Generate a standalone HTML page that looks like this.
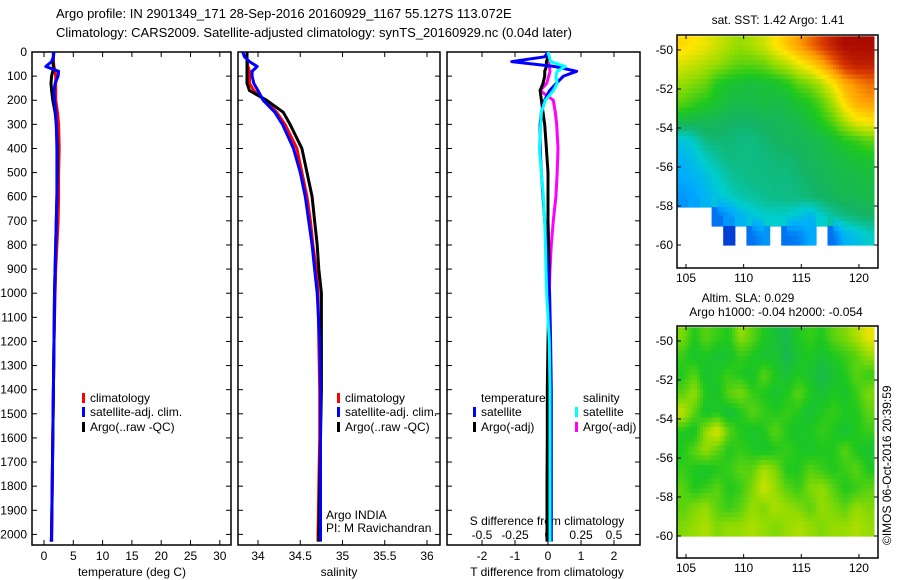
<!DOCTYPE html>
<html><head><meta charset="utf-8"><style>
html,body{margin:0;padding:0;background:#fff;}
svg{display:block;font-family:"Liberation Sans",sans-serif;}
text{font-size:12px;fill:#000;}
</style></head><body>
<svg id="c" width="900" height="580" viewBox="0 0 900 580">
<text x="56" y="18" style="font-size:13px">Argo profile: IN 2901349_171 28-Sep-2016 20160929_1167 55.127S 113.072E</text>
<text x="56" y="37" style="font-size:13px">Climatology: CARS2009. Satellite-adjusted climatology: synTS_20160929.nc (0.04d later)</text>
<text x="778" y="24" text-anchor="middle">sat. SST: 1.42 Argo: 1.41</text>
<text x="748" y="302" text-anchor="middle">Altim. SLA: 0.029</text>
<text x="776" y="316" text-anchor="middle">Argo h1000: -0.04 h2000: -0.054</text>
<text transform="translate(891,545) rotate(-90)">©IMOS 06-Oct-2016 20:39:59</text>
</svg>
<script>
// ---- data ----
const depths=[0,20,40,60,80,100,130,160,200,250,300,400,500,600,700,800,900,1000,1200,1400,1600,1800,2000,2030];
const tempArgo=[1.6,1.6,1.5,1.6,1.5,1.3,1.2,1.3,1.5,1.9,2.1,2.3,2.3,2.2,2.1,2.0,1.9,1.8,1.7,1.6,1.5,1.4,1.3,1.3];
const tempClim=[1.6,1.6,1.6,1.7,1.9,2.0,2.0,2.0,2.0,2.3,2.5,2.6,2.5,2.5,2.4,2.2,2.0,1.9,1.7,1.6,1.5,1.4,1.3,1.2];
const tempSat=[1.7,1.6,1.3,0.3,2.5,2.4,1.9,1.7,1.8,2.0,2.1,2.2,2.2,2.2,2.1,2.0,1.9,1.8,1.7,1.6,1.5,1.4,1.3,1.3];
const salArgo=[33.87,33.87,33.87,33.87,33.87,33.87,33.87,33.9,34.1,34.3,34.38,34.52,34.58,34.64,34.67,34.7,34.72,34.75,34.75,34.75,34.74,34.73,34.72,34.72];
const salClim=[33.87,33.87,33.87,33.88,33.9,33.9,33.9,33.95,34.08,34.22,34.32,34.46,34.52,34.58,34.62,34.65,34.69,34.71,34.72,34.73,34.73,34.72,34.71,34.71];
const salSat=[33.82,33.84,33.9,33.99,33.93,33.93,33.95,34.0,34.06,34.2,34.29,34.42,34.5,34.56,34.6,34.64,34.67,34.7,34.73,34.74,34.74,34.74,34.74,34.74];
const tDiffSat=[0,-0.1,-1.1,0.2,0.87,0.47,0.25,0.05,-0.1,-0.2,-0.24,-0.24,-0.2,-0.15,-0.1,-0.05,0,0.05,0.08,0.1,0.1,0.1,0.1,0.1];
const tDiffArgo=[0,0,-0.05,-0.05,-0.1,-0.1,-0.15,-0.24,-0.2,-0.15,-0.1,-0.05,0,0,0,0.02,0.03,0.03,0,-0.02,-0.02,-0.03,-0.03,-0.03];
const sDiffSat=[0,0.01,0.02,0.13,0.07,0.06,0.07,0.04,-0.02,-0.05,-0.055,-0.065,-0.05,-0.035,-0.025,-0.02,-0.015,-0.01,0.01,0.015,0.015,0.015,0.015,0.015];
const sDiffArgo=[0,0,0.005,0.01,0.015,0.005,-0.01,-0.06,0.04,0.055,0.066,0.076,0.07,0.06,0.04,0.025,0.015,0.01,0.005,0.005,0.005,0.005,0.005,0.005];
const depthTicks=[0,100,200,300,400,500,600,700,800,900,1000,1100,1200,1300,1400,1500,1600,1700,1800,1900,2000];
const tempTicks=[0,5,10,15,20,25,30];
const salTicks=[34,34.5,35,35.5,36];
const salTickLabels=["34","34.5","35","35.5","36"];
const tdTicks=[-2,-1,0,1,2];
const sdTicks=[-0.5,-0.25,0,0.25,0.5];
const sdTickLabels=["-0.5","-0.25","0","0.25","0.5"];
const mapXTicks=[105,110,115,120];
const mapYTicks=[-50,-52,-54,-56,-58,-60];
const sstGrid=[
[0.72,0.7,0.68,0.65,0.62,0.6,0.62,0.65,0.7,0.75,0.8,0.85,0.9,0.95,0.98,0.98,0.98],
[0.66,0.64,0.62,0.6,0.57,0.55,0.55,0.56,0.6,0.63,0.68,0.72,0.78,0.85,0.92,0.95,0.95],
[0.6,0.58,0.56,0.5,0.48,0.47,0.46,0.47,0.48,0.5,0.55,0.58,0.63,0.7,0.78,0.82,0.85],
[0.55,0.52,0.5,0.48,0.46,0.45,0.45,0.46,0.45,0.46,0.48,0.5,0.55,0.62,0.72,0.78,0.8],
[0.45,0.44,0.44,0.43,0.42,0.42,0.42,0.43,0.43,0.44,0.45,0.47,0.5,0.55,0.62,0.68,0.7],
[0.33,0.36,0.4,0.41,0.41,0.4,0.4,0.41,0.42,0.43,0.43,0.44,0.45,0.47,0.5,0.52,0.55],
[0.3,0.32,0.36,0.38,0.4,0.4,0.4,0.4,0.41,0.41,0.42,0.43,0.44,0.45,0.46,0.47,0.48],
[0.28,0.3,0.32,0.35,0.38,0.39,0.4,0.4,0.4,0.4,0.41,0.42,0.43,0.44,0.45,0.45,0.46],
[0.25,0.27,0.3,0.33,0.35,0.37,0.38,0.39,0.4,0.4,0.4,0.41,0.42,0.43,0.44,0.44,0.45],
[null,null,null,0.2,0.25,0.3,0.33,0.35,0.35,0.35,0.33,0.3,0.35,0.38,0.4,0.41,0.42],
[null,null,null,null,0.12,null,0.2,0.25,null,0.2,0.22,0.28,null,0.2,0.3,0.32,0.35]];
const slaGrid=[
[0.58,0.5,0.55,0.52,0.5,0.6,0.55,0.5,0.47,0.45,0.5,0.52,0.5,0.55,0.58,0.62,0.68],
[0.52,0.48,0.5,0.47,0.48,0.52,0.5,0.47,0.48,0.44,0.48,0.5,0.47,0.5,0.52,0.55,0.6],
[0.5,0.55,0.47,0.5,0.52,0.5,0.48,0.55,0.5,0.47,0.5,0.48,0.45,0.47,0.5,0.55,0.52],
[0.55,0.6,0.5,0.48,0.55,0.58,0.52,0.5,0.48,0.5,0.55,0.5,0.47,0.5,0.48,0.52,0.58],
[0.64,0.55,0.48,0.5,0.46,0.5,0.55,0.52,0.5,0.52,0.5,0.47,0.5,0.52,0.5,0.5,0.55],
[0.5,0.48,0.6,0.67,0.55,0.5,0.48,0.5,0.55,0.5,0.48,0.5,0.52,0.5,0.47,0.5,0.52],
[0.5,0.55,0.6,0.55,0.5,0.52,0.5,0.48,0.5,0.52,0.5,0.48,0.5,0.5,0.55,0.5,0.48],
[0.52,0.5,0.48,0.5,0.52,0.55,0.55,0.62,0.58,0.5,0.5,0.55,0.52,0.5,0.52,0.55,0.5],
[0.55,0.5,0.52,0.55,0.5,0.52,0.58,0.65,0.6,0.55,0.52,0.58,0.6,0.55,0.5,0.52,0.55],
[0.55,0.58,0.6,0.55,0.52,0.55,0.6,0.58,0.62,0.6,0.58,0.55,0.6,0.58,0.55,0.6,0.58],
[0.58,0.6,0.62,0.58,0.6,0.6,0.62,0.6,0.58,0.6,0.62,0.6,0.58,0.6,0.6,0.62,0.6]];
// ---- rendering ----
const NS="http://www.w3.org/2000/svg";
const svg=document.getElementById('c');
function mk(tag,attrs,parent){const e=document.createElementNS(NS,tag);for(const k in attrs)e.setAttribute(k,attrs[k]);(parent||svg).appendChild(e);return e;}
const yTop=52,yBot=545;
function yD(d){return yTop+d*0.2412;}
const tX=v=>44+v*5.86;
const sX=v=>258+(v-34)*84.5;
const tdX=v=>548+v*33;
const sdX=v=>548+v*132;
function frame(x0,x1,name){const r=mk('rect',{x:x0,y:yTop,width:x1-x0,height:yBot-yTop,fill:'none',stroke:'#000','stroke-width':1.5});

}
frame(32,231,'temperature-panel-frame');frame(238,440,'salinity-panel-frame');frame(447,640,'difference-panel-frame');
depthTicks.forEach(d=>{const y=yD(d);
[[32,231],[238,440],[447,640]].forEach(p=>{mk('line',{x1:p[0],x2:p[0]+5,y1:y,y2:y,stroke:'#000'});mk('line',{x1:p[1],x2:p[1]-5,y1:y,y2:y,stroke:'#000'});});
const t=mk('text',{x:27,y:y+4,'text-anchor':'end'});t.textContent=d;

});
function xTicks(vals,labels,fx,ly,name){vals.forEach((v,i)=>{const x=fx(v);
mk('line',{x1:x,x2:x,y1:yBot,y2:yBot-5,stroke:'#000'});mk('line',{x1:x,x2:x,y1:yTop,y2:yTop+5,stroke:'#000'});
const t=mk('text',{x:x,y:ly,'text-anchor':'middle'});t.textContent=labels[i];

});}
xTicks(tempTicks,tempTicks.map(String),tX,560,'temperature-tick-label');
xTicks(salTicks,salTickLabels,sX,560,'salinity-tick-label');
xTicks(tdTicks,tdTicks.map(String),tdX,560,'tdiff-tick-label');
sdTicks.forEach((v,i)=>{const x=sdX(v);const t=mk('text',{x:x,y:539,'text-anchor':'middle'});t.textContent=sdTickLabels[i];

});
function label(x,y,s,name,anchor){const t=mk('text',{x:x,y:y,'text-anchor':anchor||'middle'});t.textContent=s;

return t;}
label(132,576,'temperature (deg C)','temperature-axis-title');
label(339,576,'salinity','salinity-axis-title');
label(547,576,'T difference from climatology','tdiff-axis-title');
label(547,525,'S difference from climatology','sdiff-axis-title');
label(326,519,'Argo INDIA','float-owner','start');
label(326,532,'PI: M Ravichandran','float-pi','start');
function line(vals,fx,color,name,w){const pts=vals.map((v,i)=>fx(v).toFixed(1)+','+yD(depths[i]).toFixed(1)).join(' ');
const p=mk('polyline',{points:pts,fill:'none',stroke:color,'stroke-width':w||3,'stroke-linejoin':'round'});

}
line(tempClim,tX,'#f00','temperature-climatology-line');line(tempArgo,tX,'#000','temperature-argo-line');line(tempSat,tX,'#00f','temperature-satellite-line');
line(salClim,sX,'#f00','salinity-climatology-line');line(salArgo,sX,'#000','salinity-argo-line');line(salSat,sX,'#00f','salinity-satellite-line');
line(sDiffArgo,sdX,'#f0f','sdiff-argo-line');line(tDiffArgo,tdX,'#000','tdiff-argo-line');line(tDiffSat,tdX,'#00f','tdiff-satellite-line');line(sDiffSat,sdX,'#0ff','sdiff-satellite-line');
function legend(x,y,color,s,name){mk('rect',{x:x,y:y-9,width:3,height:10,fill:color});const t=mk('text',{x:x+8,y:y});t.textContent=s;

}
legend(82,402,'#f00','climatology','legend-climatology');legend(82,416,'#00f','satellite-adj. clim.','legend-satellite-adj');legend(82,431,'#000','Argo(..raw -QC)','legend-argo');
legend(337,402,'#f00','climatology','legend-climatology-2');legend(337,416,'#00f','satellite-adj. clim.','legend-satellite-adj-2');legend(337,431,'#000','Argo(..raw -QC)','legend-argo-2');
label(481,402,'temperature','legend-temperature-header','start');label(583,402,'salinity','legend-salinity-header','start');
legend(473,416,'#00f','satellite','legend-t-satellite');legend(473,431,'#000','Argo(-adj)','legend-t-argo');
legend(575,416,'#0ff','satellite','legend-s-satellite');legend(575,431,'#f0f','Argo(-adj)','legend-s-argo');
// maps
const stops=[[0,[0,0,140]],[0.15,[0,80,230]],[0.28,[0,170,255]],[0.35,[0,205,205]],[0.42,[20,180,100]],[0.5,[30,200,30]],[0.6,[150,220,0]],[0.7,[255,230,0]],[0.8,[255,160,0]],[0.9,[220,60,0]],[1,[160,0,0]]];
function cmap(v){for(let i=1;i<stops.length;i++){if(v<=stops[i][0]){const a=stops[i-1],b=stops[i],f=(v-a[0])/(b[0]-a[0]);return 'rgb('+a[1].map((c,k)=>Math.round(c+(b[1][k]-c)*f)).join(',')+')';}}return 'rgb(160,0,0)';}
function sample(grid,fr,fc){const nr=grid.length,nc=grid[0].length;
const r0=Math.max(0,Math.min(nr-1,Math.floor(fr))),c0=Math.max(0,Math.min(nc-1,Math.floor(fc)));
const r1=Math.min(nr-1,r0+1),c1=Math.min(nc-1,c0+1);
const a=Math.max(0,Math.min(1,fr-r0)),b=Math.max(0,Math.min(1,fc-c0));
const v00=grid[r0][c0],v01=grid[r0][c1],v10=grid[r1][c0],v11=grid[r1][c1];
if(v00===null||v01===null||v10===null||v11===null)return null;
return v00*(1-a)*(1-b)+v01*(1-a)*b+v10*a*(1-b)+v11*a*b;}
function map(grid,fy,y0,y1,name){
const lonX=l=>686+(l-105)*11.53;const latY=fy;
const nr=grid.length,nc=grid[0].length,S=4;
for(let r=0;r<nr;r++)for(let c=0;c<nc;c++){if(grid[r][c]===null)continue;
for(let i=0;i<S;i++)for(let j=0;j<S;j++){
let v=sample(grid,r-0.5+(i+0.5)/S,c-0.5+(j+0.5)/S);if(v===null)v=grid[r][c];
const x=lonX(104.2+(c+j/S)*(121.3-104.2)/nc),xx=lonX(104.2+(c+(j+1)/S)*(121.3-104.2)/nc);
const y=latY(-49.3-(r+i/S)*(10.7/nr)),yy=latY(-49.3-(r+(i+1)/S)*(10.7/nr));
const e=mk('rect',{x:x.toFixed(1),y:y.toFixed(1),width:(xx-x+0.6).toFixed(1),height:(yy-y+0.6).toFixed(1),fill:cmap(v)});

}}
const f=mk('rect',{x:677,y:y0,width:201,height:y1-y0,fill:'none',stroke:'#000','stroke-width':1.5});


mapXTicks.forEach(l=>{const x=lonX(l);mk('line',{x1:x,x2:x,y1:y1,y2:y1-4,stroke:'#000'});mk('line',{x1:x,x2:x,y1:y0,y2:y0+4,stroke:'#000'});
const t=mk('text',{x:x,y:y1+14,'text-anchor':'middle'});t.textContent=l;

});
mapYTicks.forEach(l=>{const y=latY(l);mk('line',{x1:677,x2:681,y1:y,y2:y,stroke:'#000'});mk('line',{x1:878,x2:874,y1:y,y2:y,stroke:'#000'});
const t=mk('text',{x:673,y:y+4,'text-anchor':'end'});t.textContent=l;

});}
map(sstGrid,l=>50+(-50-l)*19.5,35,268,'sst-map');
map(slaGrid,l=>341+(-50-l)*19.5,326,558,'sla-map');
</script>
</body></html>
